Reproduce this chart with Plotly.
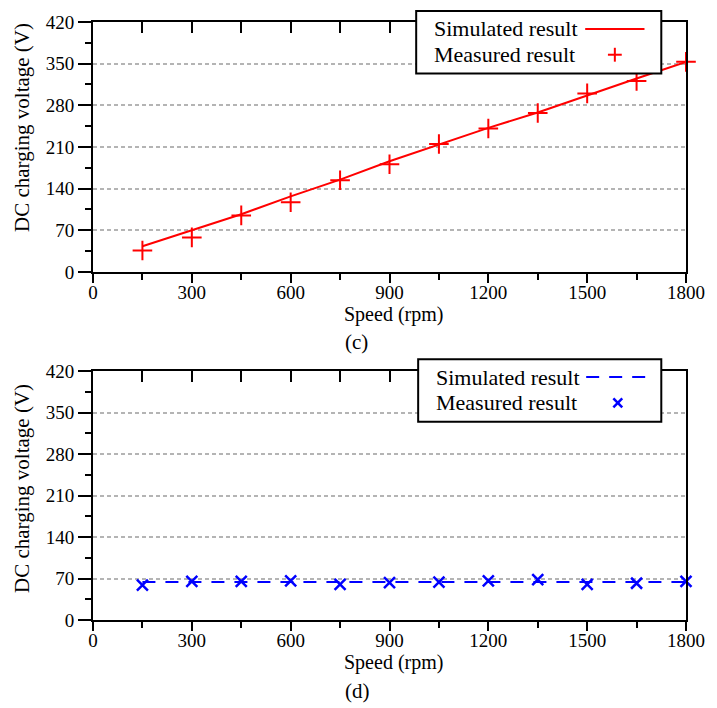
import plotly.graph_objects as go
from plotly.subplots import make_subplots

speed = [150, 300, 450, 600, 750, 900, 1050, 1200, 1350, 1500, 1650, 1800]
sim_c = [43, 70, 97, 127, 155, 186, 214, 242, 268, 297, 325, 353]
meas_c = [36, 58, 95, 117, 154, 181, 215, 241, 267, 300, 321, 353]
sim_d = [64, 64, 64, 64, 64, 64, 64, 64, 64, 64, 64, 64]
meas_d = [59, 65, 65, 66, 60, 63, 64, 66, 68, 60, 62, 65]

x_ticks = [0, 300, 600, 900, 1200, 1500, 1800]
y_ticks = [0, 70, 140, 210, 280, 350, 420]
legend_labels = ["Simulated result", "Measured result"]
x_title = "Speed (rpm)"
y_title = "DC charging voltage (V)"
panel_labels = ["(c)", "(d)"]

FONT = "Liberation Serif"
W, H = 717, 708
ML, MR, MT, MB = 93, 24, 17, 88
PW, PH = W - ML - MR, H - MT - MB


def px(x):
    return (x - ML) / PW


def py(y):
    return (H - MB - y) / PH


fig = make_subplots(rows=2, cols=1)

fig.add_trace(go.Scatter(x=speed, y=sim_c, mode="lines", line=dict(color="red", width=2),
                         showlegend=False, cliponaxis=False), row=1, col=1)
fig.add_trace(go.Scatter(x=speed, y=meas_c, mode="markers",
                         marker=dict(symbol="cross-thin", size=14, line=dict(color="red", width=2)),
                         showlegend=False, cliponaxis=False), row=1, col=1)
fig.add_trace(go.Scatter(x=speed, y=sim_d, mode="lines", line=dict(color="blue", width=2, dash="13px,10px"),
                         showlegend=False, cliponaxis=False), row=2, col=1)
fig.add_trace(go.Scatter(x=speed, y=meas_d, mode="markers",
                         marker=dict(symbol="x-thin", size=11, line=dict(color="blue", width=2.5)),
                         showlegend=False, cliponaxis=False), row=2, col=1)
# dummy empty traces for top inside-tick axes
fig.add_trace(go.Scatter(x=[], y=[], xaxis="x3", yaxis="y", showlegend=False))
fig.add_trace(go.Scatter(x=[], y=[], xaxis="x4", yaxis="y2", showlegend=False))

top_dom = [py(269), 1.0]
bot_dom = [0.0, py(369)]

xcommon = dict(range=[0, 1800], tickvals=x_ticks, ticks="outside", ticklen=9, tickwidth=2,
               tickcolor="black", showline=True, linewidth=2, linecolor="black", mirror=True,
               showgrid=False, zeroline=False, ticklabelstandoff=-7,
               minor=dict(dtick=150, tick0=0, ticks="outside", ticklen=6, tickwidth=2, tickcolor="black"),
               tickfont=dict(family=FONT, size=19, color="black"), domain=[0, 1])
ycommon = dict(range=[0, 420], tickvals=y_ticks, ticks="outside", ticklen=13, tickwidth=2,
               tickcolor="black", showline=True, linewidth=2, linecolor="black", mirror=True,
               showgrid=True, gridcolor="#b4b4b4", gridwidth=1.5, griddash="4px,3px", zeroline=False,
               minor=dict(dtick=35, tick0=0, ticks="outside", ticklen=6, tickwidth=2, tickcolor="black"),
               tickfont=dict(family=FONT, size=19, color="black"))

fig.update_layout(
    xaxis=dict(**xcommon, anchor="y"),
    xaxis2=dict(**xcommon, anchor="y2"),
    yaxis=dict(**ycommon, domain=top_dom, anchor="x"),
    yaxis2=dict(**ycommon, domain=bot_dom, anchor="x2"),
    xaxis3=dict(range=[0, 1800], overlaying="x", anchor="y", side="top", dtick=150, tick0=0,
                ticks="inside", ticklen=11, tickwidth=2, tickcolor="black", showticklabels=False,
                showline=False, showgrid=False, zeroline=False),
    xaxis4=dict(range=[0, 1800], overlaying="x2", anchor="y2", side="top", dtick=150, tick0=0,
                ticks="inside", ticklen=11, tickwidth=2, tickcolor="black", showticklabels=False,
                showline=False, showgrid=False, zeroline=False),
    width=W, height=H,
    margin=dict(l=ML, r=MR, t=MT, b=MB, pad=0),
    plot_bgcolor="white", paper_bgcolor="white",
    showlegend=False,
    font=dict(family=FONT, color="black"),
)

annotations = []
shapes = []
# axis titles and panel labels
for yt, ys in [(123, 312), (487, 663)]:
    annotations.append(dict(text=y_title, x=px(21), y=py(yt), xref="paper", yref="paper",
                            textangle=-90, showarrow=False, xanchor="center", yanchor="middle",
                            font=dict(family=FONT, size=21, color="black")))
    annotations.append(dict(text=x_title, x=px(397), y=py(ys), xref="paper", yref="paper",
                            showarrow=False, xanchor="center", yanchor="middle",
                            font=dict(family=FONT, size=20, color="black")))
annotations.append(dict(text=panel_labels[0], x=px(360), y=py(340), xref="paper", yref="paper",
                        showarrow=False, xanchor="center", yanchor="middle",
                        font=dict(family=FONT, size=21, color="black")))
annotations.append(dict(text=panel_labels[1], x=px(361), y=py(692), xref="paper", yref="paper",
                        showarrow=False, xanchor="center", yanchor="middle",
                        font=dict(family=FONT, size=21, color="black")))

# custom legends (glyph to the right of text)
for (bx0, by0, bx1, by1, color, kind) in [(420, 6, 668, 69, "red", "c"), (422, 357, 668, 420, "blue", "d")]:
    shapes.append(dict(type="rect", xref="paper", yref="paper", x0=px(bx0), x1=px(bx1),
                       y0=py(by0), y1=py(by1), fillcolor="white", line=dict(color="black", width=2),
                       layer="above"))
    ty1 = by0 + 18
    ty2 = by0 + 44
    annotations.append(dict(text=legend_labels[0], x=px(bx0 + 16), y=py(ty1), xref="paper", yref="paper",
                            showarrow=False, xanchor="left", yanchor="middle",
                            font=dict(family=FONT, size=22, color="black")))
    annotations.append(dict(text=legend_labels[1], x=px(bx0 + 16), y=py(ty2), xref="paper", yref="paper",
                            showarrow=False, xanchor="left", yanchor="middle",
                            font=dict(family=FONT, size=22, color="black")))
    if kind == "c":
        shapes.append(dict(type="line", xref="paper", yref="paper", x0=px(591), x1=px(651),
                           y0=py(ty1), y1=py(ty1), line=dict(color=color, width=2), layer="above"))
        cx, cy, h = 621, ty2, 7
        shapes.append(dict(type="line", xref="paper", yref="paper", x0=px(cx - h), x1=px(cx + h),
                           y0=py(cy), y1=py(cy), line=dict(color=color, width=2), layer="above"))
        shapes.append(dict(type="line", xref="paper", yref="paper", x0=px(cx), x1=px(cx),
                           y0=py(cy - h), y1=py(cy + h), line=dict(color=color, width=2), layer="above"))
    else:
        shapes.append(dict(type="line", xref="paper", yref="paper", x0=px(592), x1=px(656),
                           y0=py(ty1), y1=py(ty1), line=dict(color=color, width=2, dash="13px,10px"),
                           layer="above"))
        cx, cy, h = 624, ty2, 4.5
        shapes.append(dict(type="line", xref="paper", yref="paper", x0=px(cx - h), x1=px(cx + h),
                           y0=py(cy - h), y1=py(cy + h), line=dict(color=color, width=2.5), layer="above"))
        shapes.append(dict(type="line", xref="paper", yref="paper", x0=px(cx - h), x1=px(cx + h),
                           y0=py(cy + h), y1=py(cy - h), line=dict(color=color, width=2.5), layer="above"))

fig.update_layout(annotations=annotations, shapes=shapes)
fig.write_html("out.html")
